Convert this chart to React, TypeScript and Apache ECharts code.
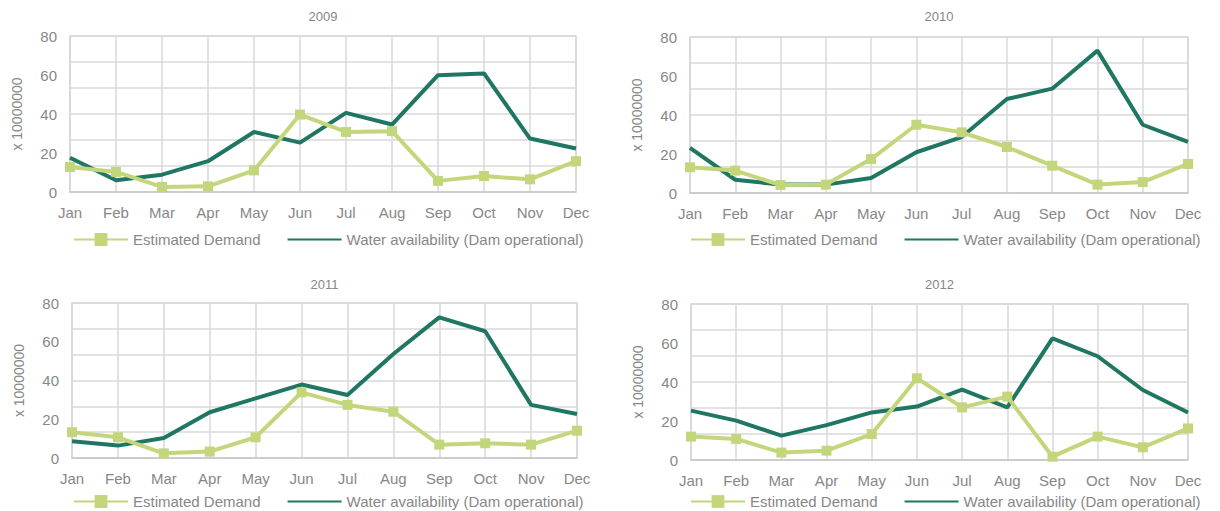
import React, { useEffect, useRef } from 'react';
import * as echarts from 'echarts';

const months = ['Jan', 'Feb', 'Mar', 'Apr', 'May', 'Jun', 'Jul', 'Aug', 'Sep', 'Oct', 'Nov', 'Dec'];
const years = ['2009', '2010', '2011', '2012'];
const seriesNames = ['Estimated Demand', 'Water availability (Dam operational)'];
const yAxisName = 'x 10000000';

const demand2009 = [12.8, 10.3, 2.6, 2.9, 11.1, 39.7, 30.8, 31.2, 5.7, 8.2, 6.5, 15.8];
const water2009 = [17.6, 6.0, 8.9, 15.8, 30.8, 25.3, 40.6, 34.6, 59.9, 60.8, 27.4, 22.3];
const demand2010 = [13.2, 11.5, 4.1, 4.3, 17.4, 35.0, 31.1, 23.6, 14.0, 4.3, 5.6, 14.9];
const water2010 = [23.1, 6.8, 4.3, 4.3, 7.7, 20.9, 28.7, 48.2, 53.5, 73.0, 35.0, 26.2];
const demand2011 = [13.3, 10.7, 2.4, 3.3, 10.7, 33.9, 27.4, 23.9, 6.9, 7.6, 6.9, 14.1];
const water2011 = [8.6, 6.4, 10.3, 23.6, 30.8, 37.9, 32.5, 53.7, 72.6, 65.4, 27.4, 22.7];
const demand2012 = [12.0, 10.8, 3.8, 4.8, 13.3, 41.9, 27.0, 32.5, 1.7, 12.0, 6.5, 16.2];
const water2012 = [25.3, 20.2, 12.5, 17.9, 24.4, 27.4, 36.1, 27.0, 62.4, 53.2, 35.9, 24.4];

const demandSets = [demand2009, demand2010, demand2011, demand2012];
const waterSets = [water2009, water2010, water2011, water2012];
const yMin = 0;
const yMax = 80;
const yLabelStep = 20;
const gridDivisions = 6;

const panels = [
  { left: 70, top: 36, width: 506, height: 156, legendLeft: 73, legendTop: 232, titleTop: 10 },
  { left: 690, top: 37, width: 498, height: 156, legendLeft: 690, legendTop: 232, titleTop: 10 },
  { left: 72, top: 303, width: 505, height: 155, legendLeft: 73, legendTop: 494, titleTop: 278 },
  { left: 691, top: 304, width: 497, height: 156, legendLeft: 690, legendTop: 494, titleTop: 278 },
];

const LIGHT = '#c4d67c';
const DARK = '#1f7663';
const TEXT = '#878787';
const GRID = '#d9d9d9';
const FONT = 'Liberation Sans';

export default function App() {
  const ref = useRef<HTMLDivElement>(null);
  useEffect(() => {
    if (!ref.current) return;
    const chart = echarts.init(ref.current, null, { renderer: 'svg' });
    const grid: any[] = [];
    const xAxis: any[] = [];
    const yAxis: any[] = [];
    const series: any[] = [];
    const legend: any[] = [];
    const title: any[] = [];
    panels.forEach((p, i) => {
      grid.push({
        left: p.left, top: p.top, width: p.width, height: p.height,
        show: true, borderColor: GRID, borderWidth: 1.5, containLabel: false,
      });
      xAxis.push({
        type: 'category', gridIndex: i, data: months, boundaryGap: false,
        axisLine: { show: true, lineStyle: { color: '#c8c8c8', width: 1.5 } },
        axisTick: { show: false },
        splitLine: { show: true, lineStyle: { color: GRID, width: 1.5 } },
        axisLabel: { color: TEXT, fontSize: 15, margin: 13, fontFamily: FONT, interval: 0 },
      });
      yAxis.push({
        type: 'value', gridIndex: i, min: yMin, max: yMax, interval: yLabelStep,
        name: yAxisName, nameLocation: 'middle', nameRotate: 90, nameGap: 46,
        nameTextStyle: { color: TEXT, fontSize: 14, fontFamily: FONT },
        axisLine: { show: true, lineStyle: { color: GRID, width: 1.5 } },
        axisTick: { show: false },
        splitLine: { show: false },
        axisLabel: { color: TEXT, fontSize: 15, margin: 13, fontFamily: FONT },
      });
      yAxis.push({
        type: 'value', gridIndex: i, min: yMin, max: yMax, interval: (yMax - yMin) / gridDivisions,
        position: 'right',
        axisLine: { show: false }, axisTick: { show: false }, axisLabel: { show: false },
        splitLine: { show: true, lineStyle: { color: GRID, width: 1.5 } },
      });
      series.push({
        name: seriesNames[0], type: 'line', xAxisIndex: i, yAxisIndex: 2 * i,
        data: demandSets[i], symbol: 'rect', symbolSize: 10, showSymbol: true,
        itemStyle: { color: LIGHT }, lineStyle: { color: LIGHT, width: 4 }, z: 3,
      });
      series.push({
        name: seriesNames[1], type: 'line', xAxisIndex: i, yAxisIndex: 2 * i,
        data: waterSets[i], symbol: 'none',
        itemStyle: { color: DARK }, lineStyle: { color: DARK, width: 4 }, z: 2,
      });
      legend.push({
        left: p.legendLeft, top: p.legendTop, padding: 0, itemWidth: 54, itemHeight: 16, itemGap: 26,
        textStyle: { color: TEXT, fontSize: 15, fontFamily: FONT },
        data: [
          { name: seriesNames[0] },
          { name: seriesNames[1], itemStyle: { opacity: 0 } },
        ],
      });
      title.push({
        text: years[i], left: p.left + p.width / 2, top: p.titleTop, textAlign: 'center', padding: 0,
        textStyle: { color: TEXT, fontSize: 13, fontWeight: 'normal', fontFamily: FONT },
      });
    });
    chart.setOption({
      animation: false,
      backgroundColor: '#ffffff',
      textStyle: { fontFamily: FONT },
      title, grid, xAxis, yAxis, series, legend,
    });
    return () => chart.dispose();
  }, []);
  return <div ref={ref} style={{ position: 'absolute', left: 0, top: 0, width: 1220, height: 511 }} />;
}
